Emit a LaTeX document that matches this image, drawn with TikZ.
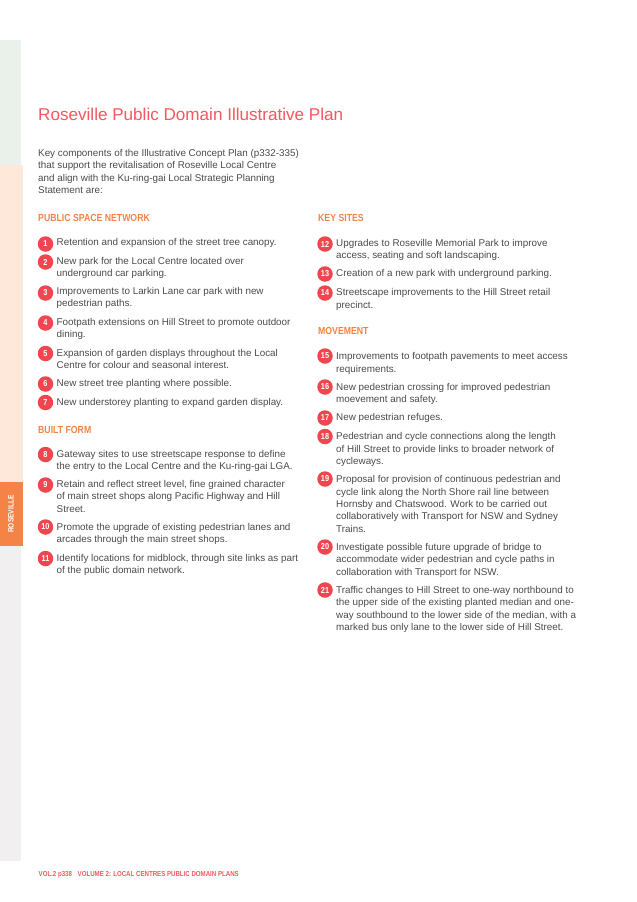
\documentclass[tikz,border=0pt]{standalone}
\usepackage{fontspec}
\setmainfont{Liberation Sans}
\newfontfamily\narrowfont[FakeStretch=0.85]{Liberation Sans}
\definecolor{titlered}{HTML}{F4575F}
\definecolor{badgered}{HTML}{EF4650}
\definecolor{headorange}{HTML}{F58345}
\definecolor{bodygrey}{HTML}{4A4A4A}
\definecolor{stripgreen}{HTML}{EAF1EB}
\definecolor{strippeach}{HTML}{FDE8DA}
\definecolor{stripgrey}{HTML}{F1EFEF}
\tikzset{
	badge/.style={circle, fill=badgered, text=white, inner sep=0, minimum size=15.5pt, font=\narrowfont\fontsize{8.6}{9}\selectfont\bfseries},
	itemtext/.style={anchor=north west, inner sep=0, align=left, yshift=-2pt, text=bodygrey, font=\fontsize{9.85}{12.35}\selectfont},
	heading/.style={anchor=west, inner sep=0, text=headorange, font=\narrowfont\fontsize{10.25}{12}\selectfont\bfseries}
}
\begin{document}
\begin{tikzpicture}[x=1pt, y=-1pt]
		%%%%% START %%%%%
		\useasboundingbox (0, 0) rectangle (637, 902);
		
		\fill[stripgreen] (0, 40) rectangle (21, 165);
		\fill[strippeach] (0, 165) rectangle (22.5, 482);
		\fill[headorange] (0, 482) rectangle (22.5, 546);
		\fill[stripgrey] (0, 546) rectangle (21, 861);
		\node[rotate=90, text=white, inner sep=0, font=\narrowfont\fontsize{7.8}{8}\selectfont\bfseries] (tab) at (11, 514) {ROSEVILLE};
		
		\node[anchor=west, inner sep=0, text=titlered, font=\fontsize{17.1}{22}\selectfont] (title) at (38, 114) {Roseville Public Domain Illustrative Plan};
		\node[itemtext] (intro) at (38, 147) {Key components of the Illustrative Concept Plan (p332-335)\\that support the revitalisation of Roseville Local Centre\\and align with the Ku-ring-gai Local Strategic Planning\\Statement are:};
		
		\node[heading] (public) at (38, 218) {PUBLIC SPACE NETWORK};
		\node[badge] (b1) at (45.5, 244) {1};
		\node[itemtext] (t1) at (56.5, 236.5) {Retention and expansion of the street tree canopy.};
		\node[badge] (b2) at (45.5, 262) {2};
		\node[itemtext] (t2) at (56.5, 255) {New park for the Local Centre located over\\underground car parking.};
		\node[badge] (b3) at (45.5, 293) {3};
		\node[itemtext] (t3) at (56.5, 285) {Improvements to Larkin Lane car park with new\\pedestrian paths.};
		\node[badge] (b4) at (45.5, 323) {4};
		\node[itemtext] (t4) at (56.5, 316) {Footpath extensions on Hill Street to promote outdoor\\dining.};
		\node[badge] (b5) at (45.5, 353.5) {5};
		\node[itemtext] (t5) at (56.5, 347) {Expansion of garden displays throughout the Local\\Centre for colour and seasonal interest.};
		\node[badge] (b6) at (45.5, 384) {6};
		\node[itemtext] (t6) at (56.5, 377.5) {New street tree planting where possible.};
		\node[badge] (b7) at (45.5, 402.5) {7};
		\node[itemtext] (t7) at (56.5, 396) {New understorey planting to expand garden display.};
		
		\node[heading] (built) at (38, 429.5) {BUILT FORM};
		\node[badge] (b8) at (45.5, 454.5) {8};
		\node[itemtext] (t8) at (56.5, 448) {Gateway sites to use streetscape response to define\\the entry to the Local Centre and the Ku-ring-gai LGA.};
		\node[badge] (b9) at (45.5, 485) {9};
		\node[itemtext] (t9) at (56.5, 478) {Retain and reflect street level, fine grained character\\of main street shops along Pacific Highway and Hill\\Street.};
		\node[badge] (b10) at (45.5, 527) {10};
		\node[itemtext] (t10) at (56.5, 521) {Promote the upgrade of existing pedestrian lanes and\\arcades through the main street shops.};
		\node[badge] (b11) at (45.5, 558.5) {11};
		\node[itemtext] (t11) at (56.5, 552) {Identify locations for midblock, through site links as part\\of the public domain network.};
		
		\node[heading] (keysites) at (318, 218) {KEY SITES};
		\node[badge] (b12) at (325, 244) {12};
		\node[itemtext] (t12) at (336, 237) {Upgrades to Roseville Memorial Park to improve\\access, seating and soft landscaping.};
		\node[badge] (b13) at (325, 274) {13};
		\node[itemtext] (t13) at (336, 267) {Creation of a new park with underground parking.};
		\node[badge] (b14) at (325, 293) {14};
		\node[itemtext] (t14) at (336, 286.5) {Streetscape improvements to the Hill Street retail\\precinct.};
		
		\node[heading] (movement) at (318, 331) {MOVEMENT};
		\node[badge] (b15) at (325, 356) {15};
		\node[itemtext] (t15) at (336, 350.5) {Improvements to footpath pavements to meet access\\requirements.};
		\node[badge] (b16) at (325, 387) {16};
		\node[itemtext] (t16) at (336, 381) {New pedestrian crossing for improved pedestrian\\moevement and safety.};
		\node[badge] (b17) at (325, 418) {17};
		\node[itemtext] (t17) at (336, 411.5) {New pedestrian refuges.};
		\node[badge] (b18) at (325, 436.5) {18};
		\node[itemtext] (t18) at (336, 430.5) {Pedestrian and cycle connections along the length\\of Hill Street to provide links to broader network of\\cycleways.};
		\node[badge] (b19) at (325, 479) {19};
		\node[itemtext] (t19) at (336, 473.5) {Proposal for provision of continuous pedestrian and\\cycle link along the North Shore rail line between\\Hornsby and Chatswood. Work to be carried out\\collaboratively with Transport for NSW and Sydney\\Trains.};
		\node[badge] (b20) at (325, 547) {20};
		\node[itemtext] (t20) at (336, 541) {Investigate possible future upgrade of bridge to\\accommodate wider pedestrian and cycle paths in\\collaboration with Transport for NSW.};
		\node[badge] (b21) at (325, 590) {21};
		\node[itemtext] (t21) at (336, 584) {Traffic changes to Hill Street to one-way northbound to\\the upper side of the existing planted median and one-\\way southbound to the lower side of the median, with a\\marked bus only lane to the lower side of Hill Street.};
		
		\node[anchor=west, inner sep=0, text=titlered, font=\narrowfont\fontsize{7.2}{9}\selectfont\bfseries] (footer) at (38.5, 875) {VOL.2 p338\hspace{4pt} VOLUME 2: LOCAL CENTRES PUBLIC DOMAIN PLANS};
		
		%%%%% END %%%%%
	\end{tikzpicture}
\end{document}
